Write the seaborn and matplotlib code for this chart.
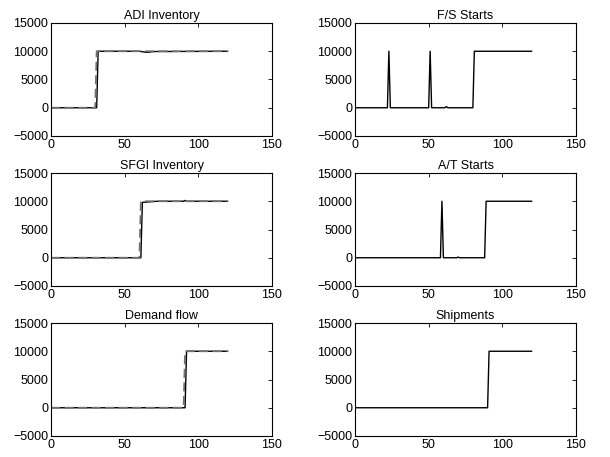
import matplotlib
matplotlib.use("Agg")
import matplotlib.pyplot as plt
import seaborn as sns

sns.set_style("white")
plt.rcParams['font.family'] = ['Liberation Sans', 'DejaVu Sans']
plt.rcParams['axes.unicode_minus'] = True
plt.rcParams['text.color'] = 'black'
plt.rcParams['axes.labelcolor'] = 'black'
plt.rcParams['xtick.color'] = 'black'
plt.rcParams['ytick.color'] = 'black'

titles = ["ADI Inventory", "F/S Starts", "SFGI Inventory", "A/T Starts", "Demand flow", "Shipments"]

# solid series breakpoints (x = time, y = value)
adi_x = [0, 31, 32, 60, 65, 70, 120]
adi_y = [0, 0, 10000, 10000, 9800, 9950, 10000]
adi_ref_x = [0, 30, 31, 120]
adi_ref_y = [0, 0, 10000, 10000]

fs_x = [0, 22, 23, 24, 50, 51, 52, 61, 62, 63, 80, 81, 120]
fs_y = [0, 0, 10000, 0, 0, 10000, 0, 0, 200, 0, 0, 10000, 10000]

sfgi_x = [0, 61, 62, 72, 90, 91, 92, 120]
sfgi_y = [0, 0, 9800, 10000, 10000, 10150, 10000, 10000]
sfgi_ref_x = [0, 60, 61, 120]
sfgi_ref_y = [0, 0, 10000, 10000]

at_x = [0, 58, 59, 60, 69, 70, 71, 88, 89, 120]
at_y = [0, 0, 10000, 0, 0, 120, 0, 0, 10000, 10000]

dem_x = [0, 91, 92, 120]
dem_y = [0, 0, 10000, 10000]
dem_ref_x = [0, 90, 91, 120]
dem_ref_y = [0, 0, 10000, 10000]

ship_x = [0, 90, 91, 120]
ship_y = [0, 0, 10000, 10000]

solid = [(adi_x, adi_y), (fs_x, fs_y), (sfgi_x, sfgi_y), (at_x, at_y), (dem_x, dem_y), (ship_x, ship_y)]
dashed = [(adi_ref_x, adi_ref_y), None, (sfgi_ref_x, sfgi_ref_y), None, (dem_ref_x, dem_ref_y), None]

fig = plt.figure(figsize=(6.1, 4.57), dpi=100)
W, H = 610, 457
lefts = [51, 355]
tops = [23, 173, 323]
aw, ah = 221, 113

for i in range(6):
    r, c = divmod(i, 2)
    ax = fig.add_axes([lefts[c] / W, 1 - (tops[r] + ah) / H, aw / W, ah / H])
    sx, sy = solid[i]
    sns.lineplot(x=sx, y=sy, ax=ax, color='black', linewidth=1.0, estimator=None, sort=False)
    if dashed[i] is not None:
        dx, dy = dashed[i]
        sns.lineplot(x=dx, y=dy, ax=ax, color='#707070', linewidth=1.3, estimator=None, sort=False,
                     dashes=False, linestyle=(0, (5, 2.5)))
    ax.set_xlim(0, 150)
    ax.set_ylim(-5000, 15000)
    ax.set_xticks([0, 50, 100, 150])
    ax.set_yticks([-5000, 0, 5000, 10000, 15000])
    ax.tick_params(direction='in', length=3, width=0.6, labelsize=9, top=True, right=True,
                   pad=2, colors='black')
    for s in ax.spines.values():
        s.set_color('black')
        s.set_linewidth(0.8)
    ax.set_title(titles[i], fontsize=9, pad=3, color='black')

fig.savefig("out.png", dpi=100, facecolor='white')
